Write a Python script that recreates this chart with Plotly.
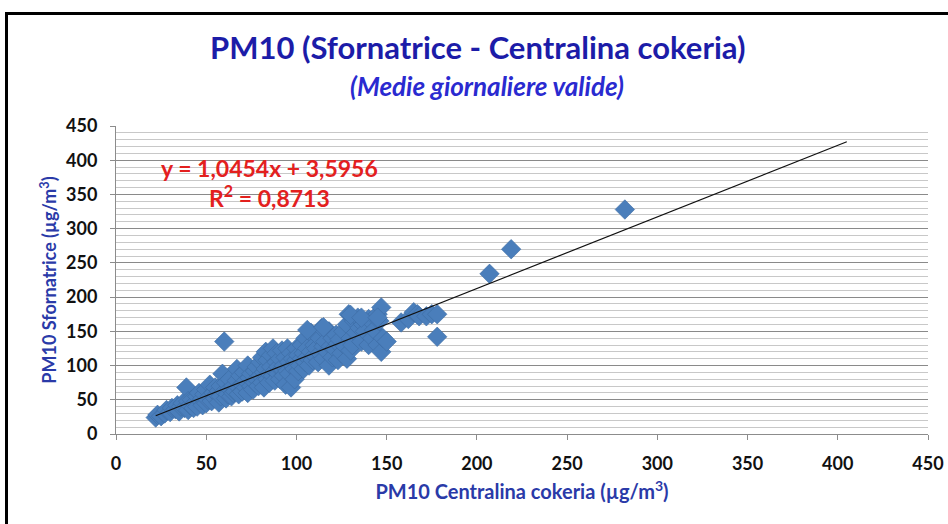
import plotly.graph_objects as go

# Data (PM10 daily means, µg/m³)
centralina = [22,23,25,27,28,30,31,33,34,35,36,37,38,39,40,40,41,42,43,44,45,45,46,47,48,48,49,50,50,51,
              52,52,53,54,55,55,56,57,57,58,58,59,60,60,61,61,62,63,63,64,65,65,66,67,67,68,68,69,70,70,
              71,72,72,73,73,74,75,75,76,77,77,78,78,79,80,80,81,81,82,82,83,83,84,84,85,85,86,86,87,87,
              88,88,89,89,90,90,91,91,92,92,93,93,94,94,95,95,96,96,97,97,98,98,99,99,100,100,101,101,102,103,
              103,104,104,105,105,106,106,107,108,108,109,110,110,111,112,113,113,114,115,115,116,117,118,118,119,120,
              120,121,122,123,123,124,125,126,127,128,128,129,130,130,131,132,133,134,135,136,137,138,140,140,142,143,
              145,145,146,147,147,148,150,158,162,165,167,168,172,175,178,178,207,219,282,
              106,115,130,136,145]
sfornatrice = [24,28,26,30,35,32,38,36,42,33,40,45,38,68,35,48,42,50,38,46,55,40,60,48,52,42,58,65,45,50,
               72,55,48,60,52,68,58,46,63,70,55,88,135,62,52,75,58,66,80,55,70,60,62,78,95,68,58,85,72,62,
               90,68,78,100,60,82,70,88,65,92,75,80,98,70,105,85,75,112,90,68,95,120,80,108,88,75,115,98,85,125,
               92,78,105,118,88,98,110,80,95,122,100,85,112,72,92,125,105,88,118,68,100,110,95,80,108,125,115,92,100,130,
               110,118,95,140,105,125,112,100,148,120,108,130,115,125,105,140,118,155,128,110,135,120,150,100,128,140,
               112,125,145,132,108,138,118,150,128,160,110,175,140,122,130,165,148,170,155,135,160,150,168,130,140,152,
               130,175,165,185,120,140,135,163,168,178,175,172,172,175,175,142,234,270,328,
               152,156,174,170,170]

# Linear trend reported on the chart
slope = 1.0454
intercept = 3.5956
r2_label = "0,8713"
trend_x = [22, 405]
trend_y = [slope * v + intercept for v in trend_x]

ticks = [0, 50, 100, 150, 200, 250, 300, 350, 400, 450]

FONT = "Lato"
BLUE_T = "#1c1ca8"
BLUE_A = "#2a3aa8"

L, R, T, B = 116, 20, 126, 90
W, H = 948, 524
PW, PH = W - L - R, H - T - B  # 812 x 308


def px(xp):
    return (xp - L) / PW


def py(yp):
    return (T + PH - yp) / PH


fig = go.Figure()
fig.add_trace(go.Scatter(
    x=centralina, y=sfornatrice, mode="markers",
    marker=dict(symbol="diamond", size=15, color="#4a7ebb",
                line=dict(color="#3d6ca3", width=0.6)),
    showlegend=False, hoverinfo="x+y"))
fig.add_trace(go.Scatter(
    x=trend_x, y=trend_y, mode="lines",
    line=dict(color="#111111", width=1.2), showlegend=False, hoverinfo="skip"))

fig.update_layout(
    width=W, height=H, autosize=False,
    margin=dict(l=L, r=R, t=T, b=B),
    paper_bgcolor="white", plot_bgcolor="white",
    font=dict(family=FONT, color="#111111"),
    xaxis=dict(range=[0, 450], tickvals=ticks, showgrid=False, zeroline=False, automargin=False,
               showline=True, linecolor="#8c8c8c", linewidth=1,
               ticks="outside", ticklen=5, tickcolor="#8c8c8c", ticklabelstandoff=8,
               tickfont=dict(family=FONT, size=18, color="#111111", weight="bold"),
               title=dict(text="PM10 Centralina cokeria (µg/m<sup>3</sup>)", standoff=12,
                          font=dict(family=FONT, size=20, color=BLUE_A, weight="bold"))),
    yaxis=dict(range=[0, 450], tickvals=ticks, zeroline=False, automargin=False,
               showgrid=True, gridcolor="#8a8a8a", gridwidth=1,
               minor=dict(dtick=10, showgrid=True, gridcolor="#c8c8c8", gridwidth=1),
               showline=True, linecolor="#8c8c8c", linewidth=1,
               ticks="outside", ticklen=5, tickcolor="#8c8c8c", ticklabelstandoff=9,
               tickfont=dict(family=FONT, size=18, color="#111111", weight="bold"),
               title=dict(text="PM10 Sfornatrice (µg/m<sup>3</sup>)", standoff=4,
                          font=dict(family=FONT, size=18, color=BLUE_A, weight="bold"))),
    shapes=[dict(type="rect", xref="paper", yref="paper",
                 x0=px(6.5), x1=px(975), y0=py(560), y1=py(13.5),
                 line=dict(color="black", width=3), fillcolor="rgba(0,0,0,0)", layer="below")],
    annotations=[
        dict(text="<b>PM10 (Sfornatrice - Centralina cokeria)</b>", xref="paper", yref="paper",
             x=px(478), y=py(47), showarrow=False, xanchor="center", yanchor="middle",
             font=dict(family=FONT, size=31, color=BLUE_T)),
        dict(text="<b><i>(Medie giornaliere valide)</i></b>", xref="paper", yref="paper",
             x=px(487), y=py(86), showarrow=False, xanchor="center", yanchor="middle",
             font=dict(family=FONT, size=26, color="#2a2ad0")),
        dict(text=f"<b>y = {str(slope).replace('.', ',')}x + {str(intercept).replace('.', ',')}</b>",
             xref="paper", yref="paper",
             x=px(269), y=py(168), showarrow=False, xanchor="center", yanchor="middle",
             font=dict(family=FONT, size=23, color="#e3201e")),
        dict(text=f"<b>R<sup>2</sup> = {r2_label}</b>", xref="paper", yref="paper",
             x=px(269), y=py(196), showarrow=False, xanchor="center", yanchor="middle",
             font=dict(family=FONT, size=23, color="#e3201e")),
    ],
)

fig.write_html(
    "out.html",
    config={"displayModeBar": False},
    post_script="document.body.style.margin='0';document.body.style.overflow='hidden';",
)
